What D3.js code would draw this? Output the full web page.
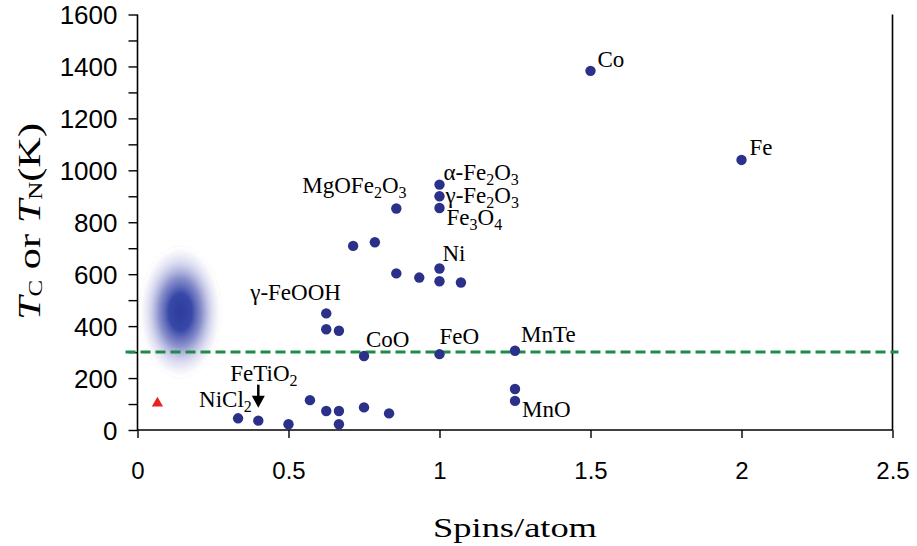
<!DOCTYPE html>
<html>
<head>
<meta charset="utf-8">
<script src="https://cdn.jsdelivr.net/npm/d3@7"></script>
<style>
  body { margin: 0; background: #fff; }
  svg { display: block; }
</style>
</head>
<body>
<svg></svg>
<script>
let svgWidth = 917
let svgHeight = 546

// spins per atom vs ordering temperature (K)
let spins = [0.333, 0.4, 0.5, 0.571, 0.625, 0.667, 0.667, 0.75, 0.833,
  0.75, 1.0, 0.625, 0.625, 0.667, 0.714, 0.786, 0.857, 0.933, 1.0, 1.0, 1.071,
  0.857, 1.0, 1.0, 1.0, 1.25, 1.25, 1.25, 1.5, 2.0]
let temps = [45, 36, 22, 115, 73, 73, 22, 87, 64,
  285, 292, 449, 388, 382, 709, 723, 603, 587, 622, 573, 568,
  853, 945, 900, 855, 305, 158, 112, 1383, 1040]
let names = ['NiCl2', 'FeTiO2', '', '', '', '', '', '', '',
  'CoO', 'FeO', 'γ-FeOOH', '', '', '', '', '', '', 'Ni', '', '',
  'MgOFe2O3', 'α-Fe2O3', 'γ-Fe2O3', 'Fe3O4', 'MnTe', '', 'MnO', 'Co', 'Fe']

let xTicks = [0, 0.5, 1, 1.5, 2, 2.5]
let yTicks = [0, 200, 400, 600, 800, 1000, 1200, 1400, 1600]
let yMinorTicks = [100, 300, 500, 700, 900, 1100, 1300, 1500]

let roomTemp = 300
let blobCenter = [0.142, 454]
let blobRadius = [0.136, 254]
let triangle = [0.066, 103]

// where each label sits relative to its dot (px)
let labelOffset = {
  'Co': [7, -4], 'Fe': [8, -5], 'α-Fe2O3': [4, -5], 'γ-Fe2O3': [6, 7],
  'Fe3O4': [7, 17], 'MgOFe2O3': [-94, -15], 'Ni': [3, -7], 'γ-FeOOH': [-76, -13],
  'CoO': [2, -9], 'FeO': [0, -10], 'MnTe': [6, -9], 'MnO': [7, 16],
  'FeTiO2': [-28, -40], 'NiCl2': [-39, -11]
}

let svg = d3.select('svg').attr('width', svgWidth).attr('height', svgHeight)

let xScale = d3.scaleLinear().domain([0, 2.5]).range([137.5, 892.5])
let yScale = d3.scaleLinear().domain([0, 1600]).range([430, 14.5])

let defs = svg.append('defs')
let grad = defs.append('radialGradient').attr('id', 'blob')
grad.append('stop').attr('offset', '0%').attr('stop-color', '#2c3b9d')
grad.append('stop').attr('offset', '28%').attr('stop-color', '#3848a8')
grad.append('stop').attr('offset', '52%').attr('stop-color', '#6d75c0').attr('stop-opacity', 0.8)
grad.append('stop').attr('offset', '75%').attr('stop-color', '#b2b4df').attr('stop-opacity', 0.5)
grad.append('stop').attr('offset', '92%').attr('stop-color', '#e6e6f5').attr('stop-opacity', 0.35)
grad.append('stop').attr('offset', '100%').attr('stop-color', '#ffffff').attr('stop-opacity', 0)

// blurred region near zero spins
svg.append('ellipse')
  .attr('cx', xScale(blobCenter[0]))
  .attr('cy', yScale(blobCenter[1]))
  .attr('rx', xScale(blobRadius[0]) - xScale(0))
  .attr('ry', yScale(0) - yScale(blobRadius[1]))
  .attr('fill', 'url(#blob)')
  .attr('stroke', '#e2e2e2')
  .attr('stroke-width', 0.6)
  .attr('stroke-dasharray', '1 1.5')

// axes
let yAxis = d3.axisLeft(yScale).tickValues(yTicks).tickSize(9).tickPadding(11)
  .tickFormat(d3.format('d'))
let yMinor = d3.axisLeft(yScale).tickValues(yMinorTicks).tickSize(9).tickFormat('')
let xAxis = d3.axisBottom(xScale).tickValues(xTicks).tickSize(8).tickPadding(24)
  .tickFormat(d => d)

let gy = svg.append('g').attr('transform', 'translate(' + xScale(0) + ',0)').call(yAxis)
svg.append('g').attr('transform', 'translate(' + xScale(0) + ',0)').call(yMinor)
  .select('.domain').remove()
let gx = svg.append('g').attr('transform', 'translate(0,' + yScale(0) + ')').call(xAxis)

gy.select('.domain').attr('d', 'M0,' + yScale(1600) + 'V' + yScale(0))
gx.select('.domain').attr('d', 'M' + xScale(0) + ',0H' + xScale(2.5))
svg.selectAll('.domain').attr('stroke', '#000').attr('stroke-width', 1.6)
svg.selectAll('.tick line').attr('stroke', '#000').attr('stroke-width', 1.4)

gy.selectAll('.tick text')
  .attr('font-family', '"Liberation Sans", Arial, sans-serif')
  .attr('font-size', 26).attr('fill', '#000').attr('dy', '0.36em')
gx.selectAll('.tick text')
  .attr('font-family', '"Liberation Sans", Arial, sans-serif')
  .attr('font-size', 24).attr('fill', '#000').attr('dy', '0.71em')

// right edge line
svg.append('line')
  .attr('x1', xScale(2.5)).attr('x2', xScale(2.5))
  .attr('y1', yScale(1600)).attr('y2', yScale(0))
  .attr('stroke', '#000').attr('stroke-width', 1.6)

// room temperature line
svg.append('line')
  .attr('x1', xScale(0) - 12).attr('x2', xScale(2.5) + 6)
  .attr('y1', yScale(roomTemp)).attr('y2', yScale(roomTemp))
  .attr('stroke', '#1e8c45').attr('stroke-width', 3)
  .attr('stroke-dasharray', '10 5')

// red triangle
svg.append('path')
  .attr('d', d3.symbol(d3.symbolTriangle, 55))
  .attr('transform', 'translate(' + xScale(triangle[0]) + ',' + yScale(triangle[1]) + ')')
  .attr('fill', '#e8231f')

// dots
let pts = spins.map((s, i) => ({ s: s, t: temps[i], name: names[i] }))
svg.append('g').selectAll('circle')
  .data(pts)
  .enter()
  .append('circle')
  .attr('cx', d => xScale(d.s))
  .attr('cy', d => yScale(d.t))
  .attr('r', 5.2)
  .attr('fill', '#2b3189')

// labels, digits become subscripts
let labels = svg.append('g')
  .attr('font-family', '"Liberation Serif", "Times New Roman", serif')
  .attr('font-size', 23)
  .attr('fill', '#000')
pts.filter(d => d.name).forEach(function(d) {
  let off = labelOffset[d.name]
  let t = labels.append('text')
    .attr('x', xScale(d.s) + off[0])
    .attr('y', yScale(d.t) + off[1])
  let parts = d.name.match(/\d+|\D+/g)
  let low = false
  parts.forEach(function(p) {
    let isNum = /\d/.test(p)
    let dy = 0
    if (isNum && !low) dy = 5
    if (!isNum && low) dy = -5
    low = isNum
    t.append('tspan').attr('dy', dy).attr('font-size', isNum ? 16 : 23).text(p)
  })
})

// arrow from FeTiO2 to its dot
let fe = pts[1]
let ax = xScale(fe.s), ay = yScale(fe.t)
svg.append('line')
  .attr('x1', ax).attr('x2', ax).attr('y1', ay - 36).attr('y2', ay - 20)
  .attr('stroke', '#000').attr('stroke-width', 2.5)
svg.append('path')
  .attr('d', 'M' + (ax - 6.5) + ',' + (ay - 25) + 'L' + (ax + 6.5) + ',' + (ay - 25) + 'L' + ax + ',' + (ay - 13) + 'Z')
  .attr('fill', '#000')

// axis titles
let xTitle = svg.append('text')
  .attr('font-family', '"Liberation Serif", "Times New Roman", serif')
  .attr('font-size', 27)
  .attr('text-anchor', 'middle')
  .attr('fill', '#000')
  .text('Spins/atom')
let xw = xTitle.node().getBBox().width
xTitle.attr('transform', 'translate(' + (xScale(0) + xScale(2.5)) / 2 + ',537) scale(' + (164 / xw) + ',1)')

let yTitleG = svg.append('g').attr('transform', 'translate(40,221.5) rotate(-90)')
let yTitle = yTitleG.append('text')
  .attr('font-family', '"Liberation Serif", "Times New Roman", serif')
  .attr('font-size', 32)
  .attr('text-anchor', 'middle')
  .attr('fill', '#000')
yTitle.append('tspan').attr('font-style', 'italic').text('T')
yTitle.append('tspan').attr('font-size', 19).attr('dy', 2).text('C')
yTitle.append('tspan').attr('dy', -2).text(' or ')
yTitle.append('tspan').attr('font-style', 'italic').text('T')
yTitle.append('tspan').attr('font-size', 19).attr('dy', 2).text('N')
yTitle.append('tspan').attr('dy', -2).text('(K)')
let yw = yTitle.node().getBBox().width
yTitle.attr('transform', 'scale(' + (197 / yw) + ',1)')
</script>
</body>
</html>
